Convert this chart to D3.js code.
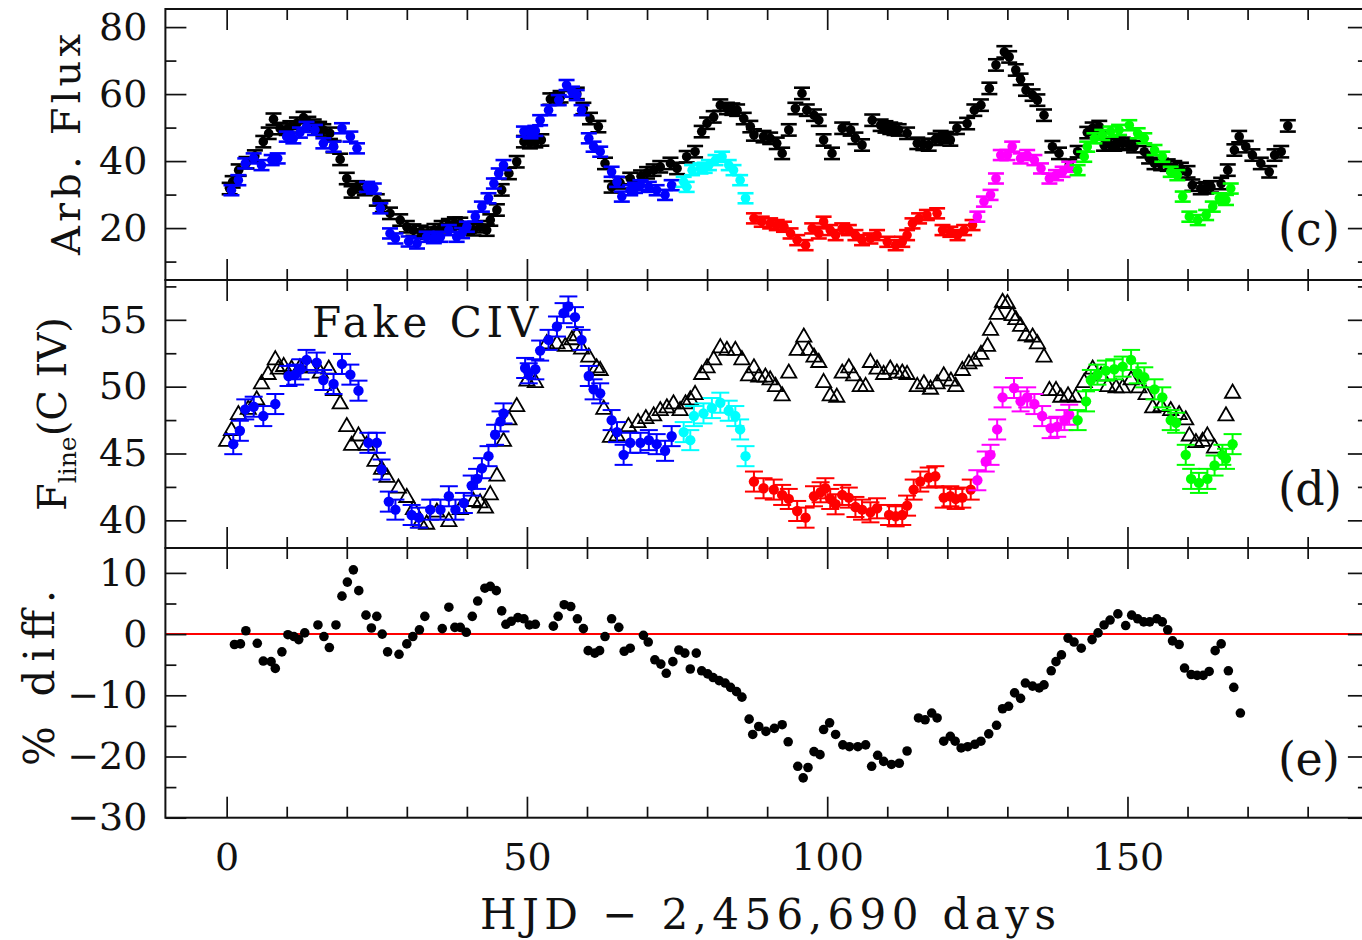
<!DOCTYPE html>
<html>
<head>
<meta charset="utf-8">
<script src="https://cdn.jsdelivr.net/npm/d3@7"></script>
<style>
  body { margin: 0; background: #fff; }
  svg { display: block; }
</style>
</head>
<body>
<svg id="chart" width="1362" height="940"></svg>
<script>
// ---- Data: [day, value] pairs -------------------------------------------

// (c) continuum light curve, arbitrary flux
const continuum = [
  [0.5,31.8],[1.0,33.8],[2.0,37.3],[3.3,39.5],[4.7,41.5],[6.1,45.8],[7.0,48.3],[7.8,52.5],
  [8.9,49.7],[10.0,49.5],[10.6,50.2],[11.7,51.3],[12.8,53.0],[13.6,51.5],[14.5,50.7],[15.4,50.0],
  [16.1,49.3],[17.2,48.3],[17.8,44.3],[18.9,40.5],[20.0,34.8],[20.8,30.8],[21.7,32.3],[23.0,31.5],
  [25.0,28.4],[26.0,26.5],[27.2,24.4],[28.9,22.4],[30.0,20.4],[31.1,19.4],[32.3,19.0],[33.5,18.5],
  [34.6,19.5],[35.8,20.4],[37.0,21.0],[38.0,21.5],[38.9,21.4],[40.0,20.0],[41.1,19.5],[42.2,20.4],
  [43.3,19.4],[43.9,22.4],[45.0,25.4],[45.8,31.4],[47.0,36.3],[48.3,39.8],[49.5,45.8],[50.5,45.5],
  [51.4,45.8],[52.4,46.3],[53.9,58.5],[55.0,58.5],[55.6,59.2],[58.3,60.2],[59.4,55.7],[60.5,52.7],
  [61.9,50.3],[63.0,39.3],[64.1,32.3],[65.5,33.5],[67.2,34.8],[69.0,35.5],[70.0,36.5],[71.1,37.3],
  [72.2,38.3],[73.9,39.3],[75.0,37.8],[76.6,41.3],[78.0,42.8],[79.1,48.8],[80.0,51.3],[81.1,53.2],
  [82.2,56.7],[83.3,55.7],[84.2,55.5],[85.0,55.2],[86.1,52.7],[87.2,50.3],[87.8,47.8],[89.4,47.3],
  [90.5,46.8],[91.6,45.3],[92.5,42.3],[93.6,49.3],[94.7,55.7],[95.8,60.2],[96.6,55.2],[97.8,53.7],
  [98.6,52.2],[99.4,46.3],[100.8,42.3],[102.5,49.8],[103.9,49.3],[104.7,46.8],[105.8,44.8],[107.5,52.2],
  [108.9,50.7],[109.7,50.2],[110.5,49.8],[111.2,49.5],[111.9,49.3],[113.3,48.3],[115.0,45.3],[116.0,45.0],
  [116.9,44.8],[118.0,46.5],[118.9,47.3],[119.8,47.0],[120.5,46.3],[121.6,49.8],[123.3,51.2],[124.5,55.2],
  [125.6,56.7],[127.0,61.7],[128.1,68.7],[129.5,72.6],[130.3,71.1],[131.4,67.2],[132.2,64.4],[133.1,61.2],
  [134.2,59.7],[135.0,58.2],[136.1,53.7],[137.5,44.3],[138.6,42.3],[140.3,38.8],[141.7,42.8],[143.3,48.5],
  [144.2,49.8],[145.3,50.3],[146.1,44.8],[147.0,45.0],[147.8,44.8],[148.5,45.3],[149.2,45.3],[150.2,45.0],
  [151.1,44.3],[152.8,42.8],[153.6,41.0],[154.5,39.3],[155.6,39.0],[156.7,38.8],[157.8,38.3],[158.9,37.8],
  [160.0,36.8],[160.8,32.8],[162.2,31.8],[163.1,32.0],[163.9,32.3],[165.6,33.3],[166.7,37.3],[167.8,43.3],
  [168.6,47.3],[169.7,44.3],[170.8,41.8],[172.2,39.3],[173.6,36.8],[174.5,41.8],[175.6,42.8],[176.7,50.5]
];

// (c) C IV line light curve, rescaled to the continuum flux units
const lineScaled = [
  [0.8,31.3],[1.95,34.3],[3.1,39.3],[4.5,40.8],[5.8,38.8],[7.5,40.3],[8.5,40.8],[10.0,47.3],
  [11.1,46.8],[12.2,48.5],[13.3,50.2],[14.7,49.3],[16.1,45.3],[17.8,44.3],[19.2,49.8],[20.6,47.3],
  [21.7,43.8],[23.4,32.3],[24.5,31.8],[25.6,25.9],[27.2,18.4],[28.1,16.9],[30.3,16.0],[31.7,15.4],
  [33.3,17.4],[34.5,17.0],[35.6,17.4],[37.0,19.4],[38.3,17.4],[39.2,18.5],[40.0,20.4],[41.4,23.4],
  [42.5,26.4],[43.6,28.9],[44.5,33.3],[45.3,36.3],[46.1,38.8],[49.5,48.8],[50.6,48.3],[51.4,49.0],
  [52.2,52.2],[53.6,55.2],[55.3,58.2],[56.6,62.7],[57.5,60.7],[58.3,59.7],[59.1,55.2],[60.3,46.8],
  [61.1,44.3],[62.2,42.8],[64.1,36.8],[65.0,33.8],[65.8,29.4],[67.2,31.3],[68.0,32.0],[68.9,32.8],
  [70.3,32.3],[71.6,31.3],[73.0,29.9],[74.1,32.8],
  [76.1,33.8],[76.6,32.3],[77.5,37.3],[78.9,37.8],[79.6,38.0],[80.3,38.8],[81.4,40.3],[82.5,41.3],
  [83.6,38.8],[84.4,37.3],[85.5,34.3],[86.4,28.9],
  [87.8,22.9],[89.1,21.9],[90.5,21.4],[91.6,20.9],[92.8,20.4],[93.9,18.4],[95.0,16.4],[96.4,14.9],
  [97.5,19.9],[98.6,18.4],[99.4,21.9],[100.5,19.4],[101.4,17.9],[102.5,19.9],[103.6,19.4],[104.7,17.9],
  [105.8,16.4],[107.2,16.9],[108.3,17.9],[110.0,15.9],[111.4,14.9],[112.5,15.9],[113.3,17.9],[114.2,21.4],
  [115.3,22.9],[116.6,23.9],[118.3,24.4],[119.2,19.4],[120.5,18.9],[121.7,17.9],[122.8,19.4],[124.2,20.9],
  [125.0,23.4],[126.1,27.9],[127.2,29.9],[128.1,34.8],[128.9,41.8],[130.0,41.8],[130.8,44.3],[132.2,40.8],
  [133.3,41.8],[134.5,40.3],[135.6,37.8],[137.0,34.8],[138.1,35.8],[139.2,36.8],[140.3,38.3],
  [141.7,37.3],[142.8,41.3],[143.3,44.3],[144.5,46.8],[145.8,47.8],[147.2,48.8],[148.6,49.3],[150.3,50.7],
  [151.7,48.3],[152.8,46.8],[154.5,43.3],[155.8,41.3],[157.2,36.8],[158.3,35.8],[159.2,29.4],[160.3,23.4],
  [161.7,22.4],[163.1,23.9],[164.2,26.4],[165.3,28.9],[166.4,28.4],[167.2,31.8]
];

// (d) model ("fake") C IV line flux
const fakeCIV = [
  [0.0,45.9],[0.8,46.7],[1.95,47.9],[3.6,48.3],[5.0,49.0],[5.8,50.2],[6.9,50.9],[8.1,52.0],
  [8.6,51.3],[9.5,51.5],[10.8,51.3],[12.2,51.4],[13.9,51.4],[15.6,51.0],[17.0,51.3],[17.8,49.7],
  [18.9,48.7],[20.0,47.0],[20.8,45.6],[21.95,46.3],[23.3,45.6],[24.7,44.4],[25.8,43.8],[26.7,43.2],
  [28.6,42.4],[30.0,41.7],[31.1,40.8],[32.2,39.8],[33.3,39.7],[35.0,40.6],[37.0,39.9],[38.9,40.8],
  [41.1,41.4],[42.2,41.3],[43.1,40.9],[43.9,41.9],[45.0,43.3],[46.1,45.9],[47.0,47.5],[48.3,48.5],
  [50.0,50.4],[51.4,50.3],[53.3,53.2],[55.0,53.2],[56.4,53.0],[57.5,53.5],[58.3,53.8],[59.1,52.8],
  [60.3,52.2],[61.6,51.4],[62.2,51.2],[62.8,48.3],[63.9,46.2],[65.0,46.3],[66.9,47.0],[68.5,47.3],
  [69.8,47.6],[71.1,47.8],[72.2,48.2],[73.3,48.4],[74.4,48.7],[75.5,48.2],[76.4,48.7],[77.2,49.0],
  [78.0,49.4],[79.1,50.9],[80.0,51.4],[81.1,52.0],[82.2,52.9],[83.3,52.7],[84.7,52.7],[85.8,52.0],
  [86.9,50.8],[87.8,51.4],[88.6,50.7],[89.7,50.7],[90.5,50.5],[91.4,50.0],[92.5,49.3],[93.6,51.0],
  [95.0,52.7],[96.1,53.7],[96.9,52.7],[97.8,52.2],[98.6,51.8],[99.4,50.3],[100.5,49.3],[101.6,49.2],
  [102.5,51.0],[103.6,51.4],[104.4,50.8],[105.5,50.0],[106.4,50.0],[107.2,51.8],[108.3,51.3],[109.4,50.9],
  [110.5,51.3],[111.6,51.0],[112.5,51.0],[113.3,50.9],[115.0,50.0],[116.1,50.2],[117.2,49.8],[118.3,50.2],
  [119.4,50.8],[120.6,50.4],[121.4,50.0],[122.5,51.2],[123.6,51.7],[124.5,51.9],[125.6,52.4],[126.7,53.0],
  [127.2,54.2],[128.3,55.4],[129.2,56.3],[130.0,56.2],[130.8,55.3],[131.4,55.0],[132.2,54.5],[133.1,53.8],
  [134.2,53.7],[135.0,53.2],[136.1,52.2],[137.0,49.7],[138.1,49.7],[138.9,49.2],[140.1,49.3],[141.4,49.2],
  [142.8,50.3],[144.2,51.3],[145.6,50.8],[146.7,50.0],[148.1,49.9],[149.2,49.9],[150.6,50.5],[151.9,49.9],
  [153.1,49.4],[154.2,48.4],[155.6,48.5],[157.2,48.2],[158.6,47.9],[159.7,47.5],[160.3,46.3],[161.4,45.8],
  [162.5,45.9],[163.3,46.3],[164.5,45.4],[166.4,47.8],[167.5,49.5]
];

// (d) observed C IV line flux
const lineCIV = [
  [1.1,45.7],[2.2,46.7],[3.1,48.3],[4.5,48.5],[6.1,47.8],[8.1,48.7],[10.3,50.8],[11.4,50.9],
  [12.3,51.3],[13.3,52.0],[15.0,51.8],[16.1,50.5],[17.8,50.2],[19.2,51.7],[20.6,50.9],[21.95,49.7],
  [23.6,45.8],[25.0,45.8],[25.8,43.8],[27.0,41.4],[28.1,40.8],[30.8,40.4],[32.0,40.2],[33.9,40.8],
  [35.6,40.8],[37.0,41.8],[38.1,40.8],[39.5,41.3],[40.8,42.6],[41.7,43.1],[42.5,43.9],[43.6,44.8],
  [44.7,46.4],[45.6,47.4],[46.1,48.0],[49.7,51.4],[50.3,51.0],[51.4,51.3],[52.2,52.7],[53.6,53.5],
  [55.0,54.5],[56.1,55.5],[56.9,56.0],[58.0,55.2],[59.1,53.5],[60.3,50.8],[61.1,49.8],[62.2,49.5],
  [64.1,47.5],[65.0,46.6],[66.1,44.9],[67.2,45.8],[68.9,45.8],[70.3,46.0],[71.6,45.7],[73.0,45.2],
  [74.1,46.3],
  [76.1,46.6],[77.2,46.0],[77.8,47.8],[79.4,48.0],[80.8,48.4],[82.2,48.8],[83.6,48.2],[84.7,47.8],
  [85.5,46.8],[86.4,44.8],
  [87.8,42.9],[89.4,42.4],[91.1,42.3],[92.5,41.9],[93.6,41.6],[95.0,40.7],[96.4,40.2],[97.8,41.8],
  [98.9,42.1],[99.7,42.4],[100.5,41.6],[101.4,41.2],[102.5,41.9],[103.6,41.7],[104.7,41.0],[105.8,40.8],
  [107.2,40.6],[108.3,40.9],[110.3,40.4],[111.4,40.3],[112.5,40.4],[113.3,41.1],[114.4,42.3],[115.5,42.9],
  [116.9,43.2],[118.0,43.3],[119.4,41.7],[120.5,41.8],[121.4,41.6],[122.5,41.7],[123.9,42.3],
  [125.0,43.0],[126.4,44.4],[127.2,44.9],[128.3,46.8],[129.2,49.2],[131.1,49.9],[132.2,48.9],[133.3,49.2],
  [134.5,48.7],[135.8,47.8],[137.2,46.9],[138.3,47.0],[139.5,47.5],[140.3,47.9],
  [141.7,47.5],[143.1,48.9],[143.9,50.5],[145.0,50.9],[146.4,51.2],[147.8,51.3],[149.2,51.5],[150.6,52.0],
  [151.7,51.0],[152.8,50.7],[154.5,49.8],[155.8,49.2],[157.2,47.5],[158.1,47.3],[159.7,44.9],[160.6,43.1],
  [161.9,42.8],[163.3,43.1],[164.5,44.1],[165.8,44.9],[166.4,44.6],[167.5,45.7]
];

// (e) percentage difference between observed and model line flux
const pctDiff = [
  [1.3,-1.7],[2.3,-1.6],[3.2,0.55],[5.1,-1.5],[6.1,-4.4],[7.4,-4.5],[8.1,-5.6],[9.2,-2.9],
  [10.2,-0.1],[11.2,-0.4],[12.0,-0.9],[13.0,0.2],[15.2,1.5],[16.2,-0.4],[17.1,-2.2],[18.2,1.5],
  [19.2,6.2],[20.1,8.5],[21.1,10.5],[22.0,7.1],[23.2,3.1],[24.1,1.0],[25.0,2.9],[25.9,0.0],
  [26.8,-2.9],[28.7,-3.3],[30.0,-1.6],[31.0,-0.4],[32.1,0.7],[33.0,2.9],[35.9,0.9],[37.0,4.4],
  [38.0,1.1],[38.9,1.1],[39.9,0.3],[40.9,2.9],[41.8,5.4],[43.0,7.5],[43.9,7.8],[44.9,7.1],
  [45.8,3.8],[46.5,1.6],[47.4,2.1],[48.5,2.7],[49.5,2.5],[50.4,1.5],[51.4,1.6],[54.4,1.3],
  [55.2,2.9],[56.2,4.8],[57.3,4.5],[58.4,2.5],[59.4,0.9],[60.2,-2.7],[61.3,-3.1],[62.1,-2.7],
  [63.0,-0.4],[64.1,2.5],[65.3,1.1],[66.2,-2.8],[67.2,-2.3],[69.4,-0.2],[70.2,-1.3],[71.3,-4.2],
  [72.3,-4.9],[73.2,-6.4],[74.3,-4.5],[75.3,-2.6],[76.3,-3.1],[77.2,-5.7],[78.2,-3.1],[79.1,-6.0],
  [80.1,-6.5],[81.0,-7.1],[82.0,-7.6],[83.0,-8.0],[83.9,-8.7],[84.9,-9.4],[85.8,-10.3],[87.0,-13.9],
  [87.6,-16.4],[88.6,-15.1],[89.8,-15.9],[91.2,-15.4],[92.5,-14.8],[93.5,-17.6],[95.1,-21.6],[96.0,-23.5],
  [96.8,-21.8],[97.8,-19.2],[98.8,-19.7],[99.4,-15.6],[100.4,-14.5],[101.4,-16.4],[102.6,-18.1],[103.7,-18.4],
  [105.1,-18.4],[106.4,-18.1],[107.4,-21.6],[108.4,-19.8],[109.4,-20.8],[110.7,-21.3],[112.0,-21.1],[113.3,-19.1],
  [115.2,-13.7],[116.3,-14.0],[117.4,-12.9],[118.3,-13.7],[119.4,-17.5],[120.5,-16.7],[121.3,-17.5],[122.3,-18.6],
  [123.4,-18.4],[124.6,-18.0],[125.6,-17.5],[126.9,-16.3],[128.2,-14.9],[129.2,-12.2],[130.2,-11.8],[131.2,-9.6],
  [132.2,-10.5],[133.0,-8.0],[134.2,-8.5],[135.3,-8.8],[136.1,-8.3],[137.3,-6.0],[138.1,-4.5],[139.0,-3.4],
  [140.1,-0.65],[141.1,-1.3],[142.3,-2.3],[144.1,-0.9],[145.1,0.2],[146.1,1.5],[147.1,2.3],[148.4,3.3],
  [149.7,1.4],[150.7,3.1],[151.7,2.5],[152.7,2.0],[153.7,2.0],[154.9,2.5],[155.8,2.0],[156.7,0.7],
  [157.5,-1.1],[158.6,-1.7],[159.5,-5.55],[160.6,-6.6],[161.6,-6.75],[162.6,-6.75],[163.6,-6.1],[164.6,-2.7],
  [165.6,-1.6],[166.8,-6.0],[167.7,-8.7],[168.8,-12.9]
];

// Typical 1-sigma uncertainties
const errContinuum = 1.7;
const errLineScaled = 1.5;
const errLineCIV = 0.75;

// Observing-season segments of the line light curve (day boundaries)
const segmentBounds = [75.5, 87.5, 124.6, 141.0];
const segmentColors = ["#0000ff", "#00ffff", "#ff0000", "#ff00ff", "#00ff00"];

// Axis ticks
const xMajor = [0, 50, 100, 150];
const xMinor = [10, 20, 30, 40, 60, 70, 80, 90, 110, 120, 130, 140, 160, 170, 180];
const cMajor = [20, 40, 60, 80], cMinor = [10, 30, 50, 70];
const dMajor = [40, 45, 50, 55], dMinor = [42.5, 47.5, 52.5, 57.5];
const eMajor = [-30, -20, -10, 0, 10], eMinor = [-25, -15, -5, 5];

// ---- Layout ---------------------------------------------------------------
const FONT = "DejaVu Serif";
const L = 165.4, R = 1368.9;
const panels = {
  c: { top: 9, bottom: 280 },
  d: { top: 280, bottom: 548 },
  e: { top: 548, bottom: 817.7 }
};

const svg = d3.select("#chart");
const x = d3.scaleLinear().domain([-10.2, 190.2]).range([L, R]);
const yC = d3.scaleLinear().domain([4.5, 85.4]).range([panels.c.bottom, panels.c.top]);
const yD = d3.scaleLinear().domain([37.93, 57.98]).range([panels.d.bottom, panels.d.top]);
const yE = d3.scaleLinear().domain([-30, 14.07]).range([panels.e.bottom, panels.e.top]);
const segColor = d3.scaleThreshold().domain(segmentBounds).range(segmentColors);

// ---- Ticks on all four sides, pointing inward ------------------------------
function panelTicks(p, yS, yMaj, yMin) {
  const defs = [
    [d3.axisBottom(x), `translate(0,${p.bottom})`, xMajor, xMinor],
    [d3.axisTop(x), `translate(0,${p.top})`, xMajor, xMinor],
    [d3.axisLeft(yS), `translate(${L},0)`, yMaj, yMin],
    [d3.axisRight(yS), `translate(${R},0)`, yMaj, yMin]
  ];
  defs.forEach(([ax, tr, maj, min]) => {
    [[maj, -21], [min, -11]].forEach(([vals, len]) => {
      const g = svg.append("g").attr("transform", tr)
        .call(ax.tickValues(vals).tickSize(len).tickFormat(""));
      g.select(".domain").remove();
      g.selectAll("line").attr("stroke", "#111").attr("stroke-width", 1.7);
    });
  });
}

function leftLabels(yS, vals) {
  const g = svg.append("g").attr("transform", `translate(${L},0)`)
    .call(d3.axisLeft(yS).tickValues(vals).tickSize(0).tickPadding(18));
  g.select(".domain").remove();
  g.attr("font-family", FONT).attr("font-size", 38);
  g.selectAll("text").attr("fill", "#111");
}

// ---- Markers ---------------------------------------------------------------
function errorPoints(pts, yS, err, colorOf, r, cap, sw) {
  const g = svg.append("g");
  const pt = g.selectAll("g").data(pts).join("g")
    .attr("stroke", d => colorOf(d[0])).attr("fill", d => colorOf(d[0]))
    .attr("stroke-width", sw);
  pt.append("line")
    .attr("x1", d => x(d[0])).attr("x2", d => x(d[0]))
    .attr("y1", d => yS(d[1] - err)).attr("y2", d => yS(d[1] + err));
  pt.append("line")
    .attr("x1", d => x(d[0]) - cap).attr("x2", d => x(d[0]) + cap)
    .attr("y1", d => yS(d[1] + err)).attr("y2", d => yS(d[1] + err));
  pt.append("line")
    .attr("x1", d => x(d[0]) - cap).attr("x2", d => x(d[0]) + cap)
    .attr("y1", d => yS(d[1] - err)).attr("y2", d => yS(d[1] - err));
  pt.append("circle")
    .attr("cx", d => x(d[0])).attr("cy", d => yS(d[1])).attr("r", r)
    .attr("stroke", "none");
}

// (c) continuum (black) then rescaled line (coloured)
errorPoints(continuum, yC, errContinuum, () => "#000", 4.8, 8, 2.6);
errorPoints(lineScaled, yC, errLineScaled, segColor, 4.8, 8, 2.6);

// (d) model triangles then observed line with error bars
const tri = d3.symbol().type(d3.symbolTriangle).size(100);
svg.append("g").selectAll("path").data(fakeCIV).join("path")
  .attr("d", tri)
  .attr("transform", d => `translate(${x(d[0])},${yD(d[1])})`)
  .attr("fill", "none").attr("stroke", "#000").attr("stroke-width", 1.8);
errorPoints(lineCIV, yD, errLineCIV, segColor, 5.2, 9, 2);

// (e) zero line and percentage differences
svg.append("line")
  .attr("x1", L).attr("x2", R)
  .attr("y1", yE(0)).attr("y2", yE(0))
  .attr("stroke", "#ff0000").attr("stroke-width", 2);
svg.append("g").selectAll("circle").data(pctDiff).join("circle")
  .attr("cx", d => x(d[0])).attr("cy", d => yE(d[1])).attr("r", 4.8)
  .attr("fill", "#000");

// ---- Frames, ticks and tick labels ------------------------------------------
Object.values(panels).forEach(p => {
  svg.append("rect")
    .attr("x", L).attr("y", p.top)
    .attr("width", R - L).attr("height", p.bottom - p.top)
    .attr("fill", "none").attr("stroke", "#111").attr("stroke-width", 2);
});
panelTicks(panels.c, yC, cMajor, cMinor);
panelTicks(panels.d, yD, dMajor, dMinor);
panelTicks(panels.e, yE, eMajor, eMinor);
leftLabels(yC, cMajor);
leftLabels(yD, dMajor);
leftLabels(yE, eMajor);

const xl = svg.append("g").attr("transform", `translate(0,${panels.e.bottom})`)
  .call(d3.axisBottom(x).tickValues(xMajor).tickSize(0).tickPadding(25));
xl.select(".domain").remove();
xl.attr("font-family", FONT).attr("font-size", 38);
xl.selectAll("text").attr("fill", "#111");

// ---- Axis titles and panel annotations --------------------------------------
function label(txt, px, py, size, len, rot) {
  const t = svg.append("text")
    .attr("transform", `translate(${px},${py})` + (rot ? " rotate(-90)" : ""))
    .attr("font-family", FONT).attr("font-size", size).attr("fill", "#111")
    .text(txt);
  if (len) t.attr("textLength", len).attr("lengthAdjust", "spacing");
  return t;
}

label("Arb. Flux", 80, 255, 40, 221, true);
label("% diff.", 54, 766, 42, 176, true);

const fl = svg.append("text")
  .attr("transform", "translate(66,511) rotate(-90)")
  .attr("font-family", FONT).attr("font-size", 40).attr("fill", "#111");
fl.append("tspan").text("F");
fl.append("tspan").attr("font-size", 25).attr("dy", 10).text("line");
fl.append("tspan").attr("dy", -10).text("(C IV)");

label("HJD \u2212 2,456,690 days", 480, 929, 42, 576, false);
label("Fake CIV", 312, 337, 42, 226, false);
label("(c)", 1278, 245, 46, 62, false);
label("(d)", 1278, 505, 46, 64, false);
label("(e)", 1278, 775, 46, 62, false);
</script>
</body>
</html>
